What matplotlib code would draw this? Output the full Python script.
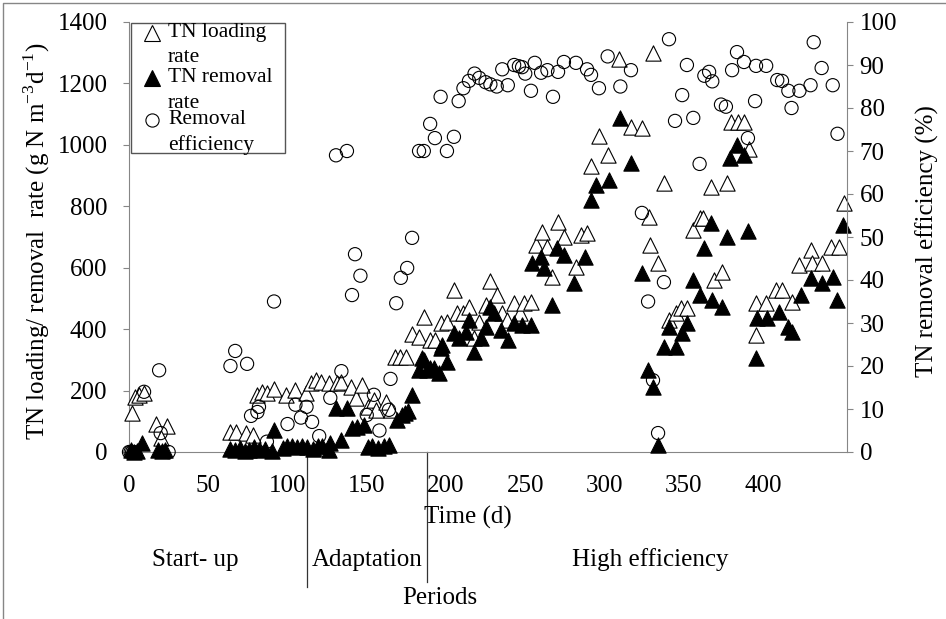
import matplotlib
matplotlib.use("Agg")
import matplotlib.pyplot as plt
from matplotlib.lines import Line2D
from matplotlib.patches import Rectangle

plt.rcParams["font.family"] = "Liberation Serif"
plt.rcParams["mathtext.fontset"] = "custom"
plt.rcParams["mathtext.rm"] = "Liberation Serif"

# TN loading rate (open triangles), g N m-3 d-1
load_day = [2, 4, 6, 9.5, 17, 24, 20,
            64, 67.5, 74, 78, 81, 84, 87, 91.5, 99, 105, 111.6, 115, 118, 121, 126,
            131, 134, 140, 143, 147, 151, 154.5, 156, 162, 165, 168, 171, 175,
            178.6, 183, 186, 190, 193, 196.6, 200.6, 205, 207, 211, 214.5, 217.6,
            220.8, 225, 228, 232, 235.5, 238.5, 243, 247, 249, 253.6, 256.8, 260.6,
            263.7, 267, 270.7, 274.4, 282, 285, 289, 291.5,
            296.5, 302, 309, 316.7, 323.6, 328, 328.7, 330.6, 333.8, 337.5, 341, 345,
            348, 352, 356, 360, 362, 367, 369, 374, 377, 380, 384, 388, 391,
            395.6, 395.6, 402, 408, 412, 418, 423, 430, 431, 437, 443, 448, 451]
tn_load = [127, 180, 186, 192, 92, 86, 45,
           65, 65, 62, 55, 186, 195, 192, 205, 186, 202, 192, 225, 235, 228, 225,
           225, 228, 212, 176, 218, 147, 169, 137, 163, 137, 310, 310, 310,
           385, 375, 440, 365, 365, 420, 424, 528, 453, 453, 473, 372,
           424, 479, 557, 512, 453, 430, 486, 453, 486, 489, 675, 717,
           668, 570, 750, 701, 603, 707, 714, 932,
           1030, 968, 1278, 1059, 1056, 766, 675, 1300, 616, 877, 430, 453,
           469, 469, 724, 763, 763, 864, 560, 587, 877, 1075, 1075, 1075, 988,
           486, 381, 486, 528, 528, 489, 609, 658, 616, 616, 668, 668, 811]

# TN removal rate (filled triangles), g N m-3 d-1
rem_day = [1, 3, 5, 8.5, 18, 21, 23,
           64, 67, 70, 73, 76, 79, 82, 86, 90, 91.5, 97, 100, 103, 106, 109, 112,
           116, 119, 122, 126, 127, 130.6, 134, 137.5, 141, 144, 148, 151, 153,
           157, 161, 164, 169, 172, 174, 176, 178.6,
           183, 185, 186, 188, 190, 192.5, 195.6, 196.6, 197.5, 200.6, 205, 208,
           212.6, 214.5, 217.6, 222, 225, 228, 230, 234.7, 239, 243, 248, 253.6,
           254, 260, 262, 267, 270, 274.4, 281, 288, 291.5, 294.6, 303, 310, 316.7,
           323.6, 327.5, 330.6, 333.8, 337.5, 340.7, 345, 349, 352, 356, 360, 362.8,
           367, 368, 374, 377, 379, 383.6, 388, 390.5, 395.6, 396, 402.5, 410, 416,
           418, 424, 430, 437, 444, 447, 450.5]
tn_rem = [5, 0, 3, 29, 5, 3, 8,
          10, 5, 12, 3, 8, 15, 5, 10, 3, 72, 12, 18, 20, 15, 18, 15,
          10, 20, 18, 5, 29, 143, 39, 143, 78, 82, 88, 16, 20,
          12, 20, 22, 104, 120, 127, 134, 186,
          267, 306, 300, 267, 274, 274, 257, 339, 349, 293, 388, 372,
          391, 430, 326, 372, 407, 473, 453, 398, 365, 420, 414, 414,
          616, 636, 600, 479, 665, 642, 551, 636, 821, 870, 887, 1088, 942,
          583, 267, 212, 23, 342, 407, 342, 388, 420, 560, 512, 665,
          746, 495, 473, 701, 958, 1000, 968, 720, 306, 437, 437, 456, 407,
          391, 512, 567, 551, 570, 495, 740]

# TN removal efficiency (open circles), %
eff_day = [0, 1, 2, 3, 9.5, 19, 20, 25,
           64, 67, 74.5, 77, 81, 82, 87, 91.5, 100, 105, 108.5, 112, 115.5, 120,
           124, 127, 130.6, 134, 137.5, 140.7, 142.6, 146, 150, 154.5, 158, 164,
           165, 168.6, 171.5, 175.5, 178.6, 183, 186,
           190, 193, 196.6, 200.6, 205, 208, 211, 214.5, 218, 221, 225, 228, 232,
           235.5, 239, 243, 246, 248, 250, 253.6, 256, 260, 264, 267.5, 270.7,
           274.4, 282, 289, 291.5, 296.5, 302, 310, 316.7,
           323.6, 327.5, 330.6, 333.8, 337.5, 340.7, 344.5, 349, 352, 356, 360,
           363, 366, 368, 373.5, 376.6, 380.5, 383.6, 388, 390.5, 395, 395.6, 402,
           409, 412, 416, 418, 423, 430, 432, 437, 444, 447]
eff = [0, 0, 0, 0, 14, 19, 4.4, 0,
       20, 23.5, 20.5, 8.4, 9.3, 10.5, 2.4, 35, 6.5, 11, 8, 10.5, 7, 3.7,
       0.3, 12.6, 69, 18.8, 70, 36.5, 46, 41, 8.6, 13.3, 5, 9.8,
       17, 34.6, 40.5, 42.8, 49.8, 70, 70,
       76.3, 73, 82.6, 70, 73.3, 81.6, 84.6, 86.3, 88, 87, 86, 85.5, 85,
       89, 85.3, 90, 89.7, 89.5, 88, 84, 90.5, 88.2, 88.8, 82.6, 88.4,
       90.7, 90.5, 89, 87.7, 84.6, 92, 85, 88.8,
       55.6, 35, 16.7, 4.4, 39.5, 96, 77, 83, 90, 77.7, 67,
       87.5, 88.4, 86.2, 80.8, 80.3, 88.8, 93, 90.7, 73, 81.6, 89.8, 89.8,
       86.5, 86.3, 84, 80, 84, 85.3, 95.3, 89.3, 85.3, 74]

period_bounds = [112.3, 188]
period_names = ["Start- up", "Adaptation", "High efficiency"]

W, H = 946, 619
GRAY = "#868686"
FS = 18


def fx(px):
    return px / W


def fy(py):
    return 1 - py / H


fig = plt.figure(figsize=(W / 100, H / 100), dpi=100)
ax = fig.add_axes([fx(129), fy(452), (847 - 129) / W, (452 - 22) / H])
ax2 = ax.twinx()

ax.scatter(load_day, tn_load, marker="^", s=11 ** 2, facecolor="white",
           edgecolor="black", linewidths=0.8, zorder=3, clip_on=False)
ax.scatter(rem_day, tn_rem, marker="^", s=11 ** 2, facecolor="black",
           edgecolor="black", linewidths=0.8, zorder=4, clip_on=False)
ax2.scatter(eff_day, eff, marker="o", s=9.5 ** 2, facecolor="none",
            edgecolor="black", linewidths=0.8, zorder=3, clip_on=False)

ax.set_xlim(0, 453)
ax.set_ylim(0, 1400)
ax2.set_ylim(0, 100)
ax.set_xticks(range(0, 401, 50))
ax.set_yticks(range(0, 1401, 200))
ax2.set_yticks(range(0, 101, 10))

ax.tick_params(axis="x", length=0, pad=16.5, labelsize=FS)
ax.tick_params(axis="y", length=4.5, color=GRAY, pad=11, labelsize=FS)
ax2.tick_params(axis="y", length=4, color=GRAY, pad=5, labelsize=FS)

for s in ["top", "right"]:
    ax.spines[s].set_visible(False)
for s in ["top", "left", "bottom"]:
    ax2.spines[s].set_visible(False)
for s in ["left", "bottom"]:
    ax.spines[s].set_color(GRAY)
ax2.spines["right"].set_color(GRAY)

ax.set_ylabel(r"TN loading/ removal  rate (g N m$^{\mathregular{-3}}$d$^{\mathregular{-1}}$)",
              fontsize=FS)
ax.yaxis.set_label_coords(-0.107, 0.49)
ax2.set_ylabel("TN removal efficiency (%)", fontsize=FS)
ax2.yaxis.set_label_coords(1.096, 0.49)

# period separators below the time axis
for xb, yb in zip(period_bounds, [-0.314, -0.302]):
    ax.plot([xb, xb], [0, yb], color="#333333", lw=0.9,
            transform=ax.get_xaxis_transform(), clip_on=False)

fig.text(fx(468), fy(517), "Time (d)", fontsize=FS, ha="center", va="center")
for name, px in zip(period_names, [195, 367, 650]):
    fig.text(fx(px), fy(560), name, fontsize=FS, ha="center", va="center")
fig.text(fx(440), fy(598), "Periods", fontsize=FS, ha="center", va="center")

# legend box drawn over the plot area
fig.add_artist(Rectangle((fx(131), fy(153)), (285 - 131) / W, (153 - 23) / H,
                         transform=fig.transFigure, facecolor="white",
                         edgecolor="#555555", lw=1, zorder=5))
entries = [("^", "white", 33, "TN loading", "rate"),
           ("^", "black", 78, "TN removal", "rate"),
           ("o", "none", 120, "Removal", "efficiency")]
for mk, fc, py, l1, l2 in entries:
    ms = 11 if mk == "^" else 9.5
    fig.add_artist(Line2D([fx(152)], [fy(py)], marker=mk, markersize=ms,
                          markerfacecolor=fc, markeredgecolor="black",
                          markeredgewidth=0.8, linestyle="none",
                          transform=fig.transFigure, zorder=6))
    fig.text(fx(168), fy(py), l1, fontsize=15.5, va="center", zorder=6)
    fig.text(fx(168), fy(py + 25), l2, fontsize=15.5, va="center", zorder=6)

# chart border: only the top and left edges fall inside the image
fig.add_artist(Line2D([fx(3), fx(3), 1.01], [-0.01, fy(3), fy(3)],
                      transform=fig.transFigure, color=GRAY, lw=1, zorder=0))

fig.savefig("out.png", dpi=100)
